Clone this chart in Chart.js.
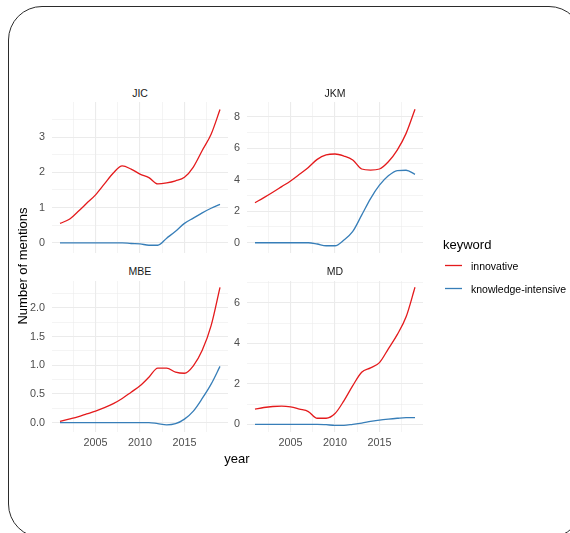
<!DOCTYPE html>
<html>
<head>
<meta charset="utf-8">
<script src="https://cdn.jsdelivr.net/npm/chart.js@4/dist/chart.umd.min.js"></script>
<style>
  html, body { margin: 0; padding: 0; background: #ffffff; }
  body { width: 570px; height: 533px; overflow: hidden; position: relative;
         font-family: "Liberation Sans", Arial, Helvetica, sans-serif; font-weight: 400; }
  .frame { position: absolute; left: 8px; top: 6px; width: 575px; height: 532px;
           border: 1.4px solid #2b2b2b; border-radius: 34px; box-sizing: border-box; }
  canvas.panel { position: absolute; }
  .txt { position: absolute; white-space: nowrap; line-height: 1; transform: translate(-50%, -50%); font-weight: 400; }
  .strip { font-size: 10.5px; color: #1A1A1A; }
  .axtitle { font-size: 13px; color: #000; }
  .legtitle { position: absolute; font-size: 13px; color: #000; line-height: 1; transform: translateY(-50%); white-space: nowrap; }
  .legitem { position: absolute; font-size: 10.5px; color: #000; line-height: 1; transform: translateY(-50%); white-space: nowrap; }
  svg.overlay { position: absolute; left: 0; top: 0; }
</style>
</head>
<body>
<div class="frame"></div>

<canvas class="panel" id="cJIC" width="228" height="151" style="left:0px;top:102px"></canvas>
<canvas class="panel" id="cJKM" width="223" height="151" style="left:200px;top:102px"></canvas>
<canvas class="panel" id="cMBE" width="228" height="172" style="left:0px;top:281px"></canvas>
<canvas class="panel" id="cMD" width="223" height="172" style="left:200px;top:281px"></canvas>

<div class="txt strip" style="left:140px;top:92.5px">JIC</div>
<div class="txt strip" style="left:335px;top:92.5px">JKM</div>
<div class="txt strip" style="left:140px;top:271px">MBE</div>
<div class="txt strip" style="left:335px;top:271px">MD</div>

<div class="txt axtitle" style="left:237px;top:457.5px">year</div>

<svg class="overlay" width="570" height="533" xmlns="http://www.w3.org/2000/svg">
  <text x="0" y="0" transform="translate(26.7,266) rotate(-90)" text-anchor="middle"
        font-family="Liberation Sans, Arial, sans-serif" font-size="13" fill="#000000">Number of mentions</text>
  <line id="key0" x1="445" x2="462" y1="265.5" y2="265.5" stroke-width="1.3"></line>
  <line id="key1" x1="445" x2="462" y1="288.5" y2="288.5" stroke-width="1.3"></line>
</svg>

<div class="legtitle" style="left:443px;top:244px">keyword</div>
<div class="legitem" id="lab0" style="left:471px;top:265.5px"></div>
<div class="legitem" id="lab1" style="left:471px;top:288.5px"></div>

<script>
// ---- data ----
const years = [2001,2002,2003,2004,2005,2006,2007,2008,2009,2010,2011,2012,2013,2014,2015,2016,2017,2018,2019];
const keywords = ['innovative', 'knowledge-intensive'];
const keywordColors = ['#E41A1C', '#377EB8'];

const jicInnovative = [0.55,0.66,0.88,1.12,1.36,1.67,1.98,2.18,2.09,1.95,1.85,1.67,1.70,1.76,1.86,2.15,2.62,3.08,3.78];
const jicKnowledge  = [0,0,0,0,0,0,0,0,-0.02,-0.03,-0.07,-0.07,0.13,0.33,0.55,0.70,0.85,0.98,1.09];

const jkmInnovative = [2.54,2.86,3.20,3.56,3.92,4.34,4.78,5.29,5.57,5.63,5.50,5.25,4.68,4.61,4.68,5.14,5.88,6.94,8.47];
const jkmKnowledge  = [0,0,0,0,0,0,0,-0.08,-0.19,-0.19,0.17,0.72,1.75,2.80,3.65,4.25,4.58,4.60,4.34];

const mbeInnovative = [0.02,0.06,0.10,0.15,0.20,0.26,0.33,0.42,0.53,0.64,0.79,0.95,0.95,0.88,0.86,0.99,1.26,1.69,2.36];
const mbeKnowledge  = [0,0,0,0,0,0,0,0,0,0,0,-0.02,-0.04,-0.02,0.06,0.20,0.42,0.67,0.98];

const mdInnovative  = [0.75,0.83,0.88,0.90,0.86,0.75,0.63,0.30,0.30,0.53,1.16,1.91,2.57,2.79,3.05,3.73,4.43,5.31,6.77];
const mdKnowledge   = [0,0,0,0,0,0,0,0,-0.02,-0.05,-0.05,0,0.06,0.14,0.21,0.26,0.30,0.33,0.33];

const xTickValues = [2005, 2010, 2015];
const xTickLabels = ['2005', '2010', '2015'];

const jicYTickValues = [0, 1, 2, 3];
const jicYTickLabels = ['0', '1', '2', '3'];
const jkmYTickValues = [0, 2, 4, 6, 8];
const jkmYTickLabels = ['0', '2', '4', '6', '8'];
const mbeYTickValues = [0, 0.5, 1, 1.5, 2];
const mbeYTickLabels = ['0.0', '0.5', '1.0', '1.5', '2.0'];
const mdYTickValues  = [0, 2, 4, 6];
const mdYTickLabels  = ['0', '2', '4', '6'];

// ---- legend ----
keywords.forEach((k, i) => {
  document.getElementById('lab' + i).textContent = k;
  document.getElementById('key' + i).setAttribute('stroke', keywordColors[i]);
});

const FONT = '"Liberation Sans", Arial, Helvetica, sans-serif';
const MAJOR_GRID = '#EBEBEB';

function isMajor(v, majors) {
  return majors.some(m => Math.abs(m - v) < 1e-6);
}
function labelFor(v, values, labels) {
  const i = values.findIndex(m => Math.abs(m - v) < 1e-6);
  return i >= 0 ? labels[i] : '';
}

function makePanel(id, innov, know, yMin, yMax, yStep, yVals, yLabs, yAxisWidth, showX) {
  const series = [innov, know];
  new Chart(document.getElementById(id), {
    type: 'line',
    data: {
      datasets: series.map((vals, i) => ({
        label: keywords[i],
        data: years.map((yr, j) => ({ x: yr, y: vals[j] })),
        borderColor: keywordColors[i],
        backgroundColor: keywordColors[i],
        borderWidth: 1.3,
        pointRadius: 0,
        fill: false,
        cubicInterpolationMode: 'monotone'
      }))
    },
    options: {
      responsive: false,
      animation: false,
      devicePixelRatio: 1,
      layout: { padding: 0, autoPadding: false },
      plugins: { legend: { display: false }, tooltip: { enabled: false }, title: { display: false } },
      scales: {
        x: {
          type: 'linear',
          min: 2000.1,
          max: 2019.9,
          border: { display: false },
          grid: {
            drawTicks: false,
            color: MAJOR_GRID,
            lineWidth: c => isMajor(c.tick.value, xTickValues) ? 1.1 : 0.55
          },
          ticks: {
            display: showX,
            stepSize: 2.5,
            includeBounds: false,
            autoSkip: false,
            maxRotation: 0,
            padding: 5,
            color: '#4D4D4D',
            font: { family: FONT, size: 10.8 },
            callback: v => labelFor(v, xTickValues, xTickLabels)
          },
          afterFit: s => {
            s.height = showX ? 21 : 0;
            s.paddingLeft = 0; s.paddingRight = 0; s.paddingTop = 0; s.paddingBottom = 0;
          }
        },
        y: {
          type: 'linear',
          min: yMin,
          max: yMax,
          border: { display: false },
          grid: {
            drawTicks: false,
            color: MAJOR_GRID,
            lineWidth: c => isMajor(c.tick.value, yVals) ? 1.1 : 0.55
          },
          ticks: {
            stepSize: yStep,
            includeBounds: false,
            autoSkip: false,
            padding: 7,
            color: '#4D4D4D',
            font: { family: FONT, size: 10.8 },
            callback: v => labelFor(v, yVals, yLabs)
          },
          afterFit: s => {
            s.width = yAxisWidth;
            s.paddingLeft = 0; s.paddingRight = 0; s.paddingTop = 0; s.paddingBottom = 0;
          }
        }
      }
    }
  });
}

makePanel('cJIC', jicInnovative, jicKnowledge, -0.29, 3.995, 0.5, jicYTickValues, jicYTickLabels, 52, false);
makePanel('cJKM', jkmInnovative, jkmKnowledge, -0.65, 8.93, 1, jkmYTickValues, jkmYTickLabels, 47, false);
makePanel('cMBE', mbeInnovative, mbeKnowledge, -0.165, 2.47, 0.25, mbeYTickValues, mbeYTickLabels, 52, true);
makePanel('cMD',  mdInnovative,  mdKnowledge,  -0.38, 7.08, 1, mdYTickValues, mdYTickLabels, 47, true);
</script>
</body>
</html>
